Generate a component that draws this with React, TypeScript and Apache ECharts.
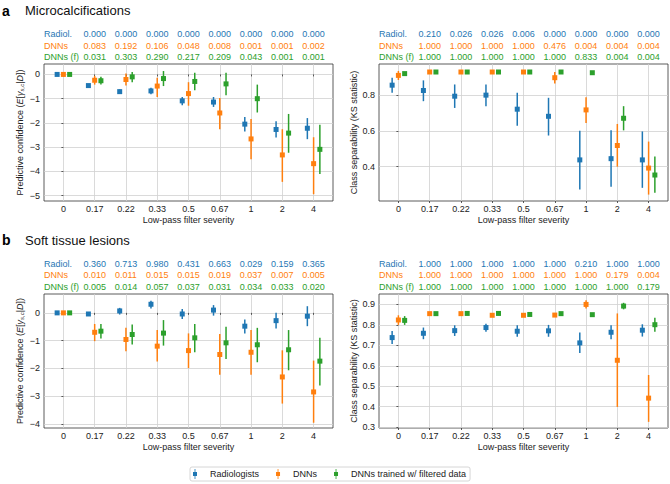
import React, { useEffect, useRef } from 'react';
import * as echarts from 'echarts';

const FONT = '"Liberation Sans", Arial, Helvetica, sans-serif';
const BLUE = '#1f77b4';
const ORANGE = '#ff7f0e';
const GREEN = '#2ca02c';
const COLORS = [BLUE, ORANGE, GREEN];

const categories = ['0', '0.17', '0.22', '0.33', '0.5', '0.67', '1', '2', '4'];
const seriesNames = ['Radiologists', 'DNNs', 'DNNs trained w/ filtered data'];
const rowLabels = ['Radiol.', 'DNNs', 'DNNs (f)'];

// a) Microcalcifications — predictive confidence [mean, lower, upper]
const aConfRadiol = [[0, 0, 0], [-0.46, -0.51, -0.41], [-0.71, -0.79, -0.62], [-0.68, -0.82, -0.55], [-1.09, -1.27, -0.93], [-1.14, -1.34, -0.93], [-2.05, -2.35, -1.76], [-2.27, -2.6, -1.93], [-2.22, -2.67, -1.8]];
const aConfDNN = [[0, 0, 0], [-0.24, -0.42, -0.06], [-0.21, -0.46, 0.04], [-0.48, -0.93, -0.14], [-0.79, -1.29, -0.32], [-1.59, -2.26, -0.97], [-2.66, -3.5, -1.84], [-3.32, -4.43, -2.26], [-3.68, -4.94, -2.59]];
const aConfDNNf = [[0, 0, 0], [-0.26, -0.42, -0.1], [-0.1, -0.32, 0.1], [-0.17, -0.48, 0.14], [-0.29, -0.65, 0.07], [-0.39, -0.86, 0.07], [-1.0, -1.57, -0.42], [-2.42, -3.23, -1.63], [-3.09, -4.11, -2.08]];

// a) Microcalcifications — class separability [mean, lower, upper]
const aSepRadiol = [[0.858, 0.815, 0.9], [0.828, 0.768, 0.885], [0.796, 0.73, 0.862], [0.802, 0.74, 0.862], [0.723, 0.63, 0.815], [0.683, 0.575, 0.787], [0.438, 0.272, 0.602], [0.445, 0.287, 0.604], [0.438, 0.281, 0.598]];
const aSepDNN = [[0.913, 0.887, 0.938], [0.932, 0.93, 0.934], [0.932, 0.93, 0.934], [0.932, 0.93, 0.934], [0.932, 0.93, 0.934], [0.9, 0.868, 0.932], [0.719, 0.645, 0.79], [0.519, 0.4, 0.64], [0.392, 0.243, 0.541]];
const aSepDNNf = [[0.923, 0.915, 0.93], [0.932, 0.93, 0.934], [0.932, 0.93, 0.934], [0.932, 0.93, 0.934], [0.932, 0.93, 0.934], [0.932, 0.93, 0.934], [0.928, 0.925, 0.931], [0.672, 0.604, 0.74], [0.353, 0.253, 0.457]];

// b) Soft tissue lesions — predictive confidence
const bConfRadiol = [[0, 0, 0], [-0.04, -0.08, 0.0], [0.07, -0.06, 0.18], [0.31, 0.16, 0.44], [-0.04, -0.22, 0.14], [0.1, -0.1, 0.28], [-0.48, -0.74, -0.24], [-0.28, -0.56, 0.0], [-0.12, -0.48, 0.24]];
const bConfDNN = [[0, 0, 0], [-0.7, -1.02, -0.4], [-0.96, -1.38, -0.54], [-1.2, -1.75, -0.62], [-1.36, -1.99, -0.74], [-1.5, -2.23, -0.76], [-1.42, -2.23, -0.62], [-2.31, -3.27, -1.35], [-2.85, -3.96, -1.72]];
const bConfDNNf = [[0, 0, 0], [-0.66, -0.92, -0.4], [-0.78, -1.14, -0.42], [-0.73, -1.18, -0.26], [-0.9, -1.42, -0.4], [-1.08, -1.66, -0.5], [-1.15, -1.78, -0.54], [-1.33, -2.07, -0.62], [-1.74, -2.62, -0.9]];

// b) Soft tissue lesions — class separability
const bSepRadiol = [[0.738, 0.706, 0.77], [0.759, 0.73, 0.787], [0.772, 0.746, 0.798], [0.787, 0.766, 0.806], [0.769, 0.742, 0.798], [0.771, 0.742, 0.8], [0.712, 0.662, 0.763], [0.764, 0.73, 0.798], [0.774, 0.743, 0.803]];
const bSepDNN = [[0.824, 0.8, 0.847], [0.855, 0.851, 0.859], [0.855, 0.851, 0.859], [0.847, 0.843, 0.851], [0.847, 0.843, 0.851], [0.848, 0.844, 0.852], [0.9, 0.88, 0.92], [0.627, 0.399, 0.856], [0.442, 0.326, 0.555]];
const bSepDNNf = [[0.822, 0.8, 0.843], [0.855, 0.852, 0.858], [0.856, 0.853, 0.859], [0.856, 0.853, 0.859], [0.851, 0.848, 0.854], [0.855, 0.852, 0.858], [0.85, 0.847, 0.853], [0.892, 0.876, 0.908], [0.801, 0.766, 0.835]];

// p-values shown above each panel (categories 0.17 ... 4)
const aConfPRadiol = [0, 0, 0, 0, 0, 0, 0, 0];
const aConfPDNN = [0.083, 0.192, 0.106, 0.048, 0.008, 0.001, 0.001, 0.002];
const aConfPDNNf = [0.031, 0.303, 0.29, 0.217, 0.209, 0.043, 0.001, 0.001];
const aSepPRadiol = [0.21, 0.026, 0.026, 0.006, 0, 0, 0, 0];
const aSepPDNN = [1, 1, 1, 1, 0.476, 0.004, 0.004, 0.004];
const aSepPDNNf = [1, 1, 1, 1, 1, 0.833, 0.004, 0.004];
const bConfPRadiol = [0.36, 0.713, 0.98, 0.431, 0.663, 0.029, 0.159, 0.365];
const bConfPDNN = [0.01, 0.011, 0.015, 0.015, 0.019, 0.037, 0.007, 0.005];
const bConfPDNNf = [0.005, 0.014, 0.057, 0.037, 0.031, 0.034, 0.033, 0.02];
const bSepPRadiol = [1, 1, 1, 1, 1, 0.21, 1, 1];
const bSepPDNN = [1, 1, 1, 1, 1, 1, 0.179, 0.004];
const bSepPDNNf = [1, 1, 1, 1, 1, 1, 1, 0.179];

const confTicksA = [-5, -4, -3, -2, -1, 0];
const sepTicksA = [0.4, 0.6, 0.8];
const confTicksB = [-4, -3, -2, -1, 0];
const sepTicksB = [0.3, 0.4, 0.5, 0.6, 0.7, 0.8, 0.9];

const X_MIN = -0.62;
const X_MAX = 8.62;
const OFFSETS = [-0.2, 0, 0.2];

const confName = '{n|Predictive confidence (}{i|E}{n|[}{i|γ}{s|s,c}{n||}{i|D}{n|])}';
const sepName = 'Class separability (KS statistic)';

const nameRich = {
  n: { fontSize: 9, fontFamily: FONT, color: '#222' },
  i: { fontSize: 9, fontFamily: FONT, fontStyle: 'italic', color: '#222' },
  s: { fontSize: 6, fontFamily: FONT, fontStyle: 'italic', color: '#222', padding: [4, 0, 0, 0] },
};

function fmtY(v: number) {
  const r = parseFloat(v.toFixed(2));
  return r < 0 ? '\u2212' + String(Math.abs(r)) : String(r);
}

export default function App() {
  const ref = useRef<HTMLDivElement>(null);

  useEffect(() => {
    if (!ref.current) return;
    const chart = echarts.init(ref.current, undefined, { renderer: 'svg' });

    const plotGrids = [
      { left: 44, top: 64, width: 289, height: 137 },
      { left: 379, top: 64, width: 289, height: 137 },
      { left: 44, top: 294, width: 289, height: 134 },
      { left: 379, top: 294, width: 289, height: 134 },
    ];
    const tableGrids = [
      { left: 44, top: 28.7, width: 289, height: 34.3 },
      { left: 379, top: 28.7, width: 289, height: 34.3 },
      { left: 44, top: 258.3, width: 289, height: 34.3 },
      { left: 379, top: 258.3, width: 289, height: 34.3 },
    ];
    const panels = [
      { data: [aConfRadiol, aConfDNN, aConfDNNf], min: -5.22, max: 0.43, ticks: confTicksA, name: confName, gap: 19 },
      { data: [aSepRadiol, aSepDNN, aSepDNNf], min: 0.207, max: 0.977, ticks: sepTicksA, name: sepName, gap: 18 },
      { data: [bConfRadiol, bConfDNN, bConfDNNf], min: -4.15, max: 0.68, ticks: confTicksB, name: confName, gap: 19 },
      { data: [bSepRadiol, bSepDNN, bSepDNNf], min: 0.296, max: 0.951, ticks: sepTicksB, name: sepName, gap: 18 },
    ];
    const tables = [
      [aConfPRadiol, aConfPDNN, aConfPDNNf],
      [aSepPRadiol, aSepPDNN, aSepPDNNf],
      [bConfPRadiol, bConfPDNN, bConfPDNNf],
      [bSepPRadiol, bSepPDNN, bSepPDNNf],
    ];

    const grid: any[] = [];
    const xAxis: any[] = [];
    const yAxis: any[] = [];
    const series: any[] = [];

    const catIdx = categories.map((_, i) => i);

    panels.forEach((p, gi) => {
      grid.push({ ...plotGrids[gi], show: true, borderColor: '#333', borderWidth: 0.8, containLabel: false });
      xAxis.push({
        type: 'value', gridIndex: gi, min: X_MIN, max: X_MAX,
        name: 'Low-pass filter severity', nameLocation: 'middle', nameGap: 14,
        nameTextStyle: { fontSize: 9, fontFamily: FONT, color: '#222' },
        axisLine: { show: false },
        axisTick: { show: true, length: 2, customValues: catIdx, lineStyle: { color: '#333', width: 0.8 } },
        axisLabel: {
          customValues: catIdx, fontSize: 9, fontFamily: FONT, color: '#222', margin: 3,
          formatter: (v: number) => categories[Math.round(v)] ?? '',
        },
        splitLine: { show: true, lineStyle: { color: '#d0d0d0', width: 0.8 } },
      });
      yAxis.push({
        type: 'value', gridIndex: gi, min: p.min, max: p.max,
        name: p.name, nameLocation: 'middle', nameGap: p.gap, nameRotate: 90,
        nameTextStyle: { fontSize: 9, fontFamily: FONT, color: '#222', rich: nameRich },
        axisLine: { show: false },
        axisTick: { show: true, length: 2, customValues: p.ticks, lineStyle: { color: '#333', width: 0.8 } },
        axisLabel: { customValues: p.ticks, fontSize: 9, fontFamily: FONT, color: '#222', margin: 4, formatter: fmtY },
        splitLine: { show: true, lineStyle: { color: '#d0d0d0', width: 0.8 } },
      });

      p.data.forEach((ds, k) => {
        const color = COLORS[k];
        series.push({
          type: 'custom', name: 'errorbar-' + gi + '-' + k,
          xAxisIndex: gi, yAxisIndex: gi, silent: true, z: 2,
          encode: { x: 0, y: [1, 2] },
          data: ds.map((d, i) => [i + OFFSETS[k], d[1], d[2]]),
          renderItem: (_params: any, api: any) => {
            const x = api.value(0);
            const a = api.coord([x, api.value(1)]);
            const b = api.coord([x, api.value(2)]);
            return {
              type: 'line',
              shape: { x1: a[0], y1: a[1], x2: b[0], y2: b[1] },
              style: { stroke: color, lineWidth: 1.5 },
            };
          },
        });
        series.push({
          type: 'scatter', name: seriesNames[k],
          xAxisIndex: gi, yAxisIndex: gi, z: 3,
          symbol: 'rect', symbolSize: 5,
          itemStyle: { color, opacity: 1 },
          data: ds.map((d, i) => [i + OFFSETS[k], d[0]]),
        });
      });
    });

    tables.forEach((rows, ti) => {
      const gi = 4 + ti;
      grid.push({ ...tableGrids[ti], show: false });
      xAxis.push({ type: 'value', gridIndex: gi, min: X_MIN, max: X_MAX, show: false });
      yAxis.push({ type: 'value', gridIndex: gi, min: 0, max: 3, show: false });
      const items: { x: number; y: number; text: string; color: string; align: string }[] = [];
      rows.forEach((vals, r) => {
        const y = 2.5 - r;
        items.push({ x: X_MIN, y, text: rowLabels[r], color: COLORS[r], align: 'left' });
        vals.forEach((v, j) => {
          items.push({ x: j + 1, y, text: v.toFixed(3), color: COLORS[r], align: 'center' });
        });
      });
      series.push({
        type: 'custom', name: 'table-' + ti, xAxisIndex: gi, yAxisIndex: gi, silent: true,
        encode: { x: 0, y: 1 },
        data: items.map((it) => [it.x, it.y]),
        renderItem: (params: any, api: any) => {
          const it = items[params.dataIndex];
          const pt = api.coord([it.x, it.y]);
          return {
            type: 'text', x: pt[0], y: pt[1],
            style: {
              text: it.text, fill: it.color, fontSize: 9, fontFamily: FONT,
              align: it.align, verticalAlign: 'middle',
            },
          };
        },
      });
    });

    const legendIcon = 'path://M1.6,0 L2.4,0 L2.4,3 L4,3 L4,7 L2.4,7 L2.4,10 L1.6,10 L1.6,7 L0,7 L0,3 L1.6,3 Z';

    chart.setOption({
      animation: false,
      backgroundColor: '#ffffff',
      textStyle: { fontFamily: FONT },
      grid, xAxis, yAxis, series,
      legend: {
        left: 190, top: 467,
        orient: 'horizontal',
        itemWidth: 20, itemHeight: 10, itemGap: 17,
        padding: [2, 4, 2, 3],
        borderColor: '#cccccc', borderWidth: 0.8, borderRadius: 2,
        backgroundColor: '#ffffff',
        textStyle: { fontSize: 9, fontFamily: FONT, color: '#222' },
        data: seriesNames.map((n) => ({ name: n, icon: legendIcon })),
        selectedMode: false,
      },
      graphic: [
        { type: 'text', x: 2, y: 10.5, style: { text: 'a', fontSize: 14, fontWeight: 'bold', fontFamily: FONT, fill: '#000', verticalAlign: 'middle' } },
        { type: 'text', x: 25, y: 10.5, style: { text: 'Microcalcifications', fontSize: 13, fontFamily: FONT, fill: '#111', verticalAlign: 'middle' } },
        { type: 'text', x: 2, y: 240, style: { text: 'b', fontSize: 14, fontWeight: 'bold', fontFamily: FONT, fill: '#000', verticalAlign: 'middle' } },
        { type: 'text', x: 25, y: 240, style: { text: 'Soft tissue lesions', fontSize: 13, fontFamily: FONT, fill: '#111', verticalAlign: 'middle' } },
      ],
    });

    return () => chart.dispose();
  }, []);

  return (
    <div
      ref={ref}
      style={{ position: 'fixed', left: 0, top: 0, width: 670, height: 484, background: '#fff' }}
    />
  );
}
